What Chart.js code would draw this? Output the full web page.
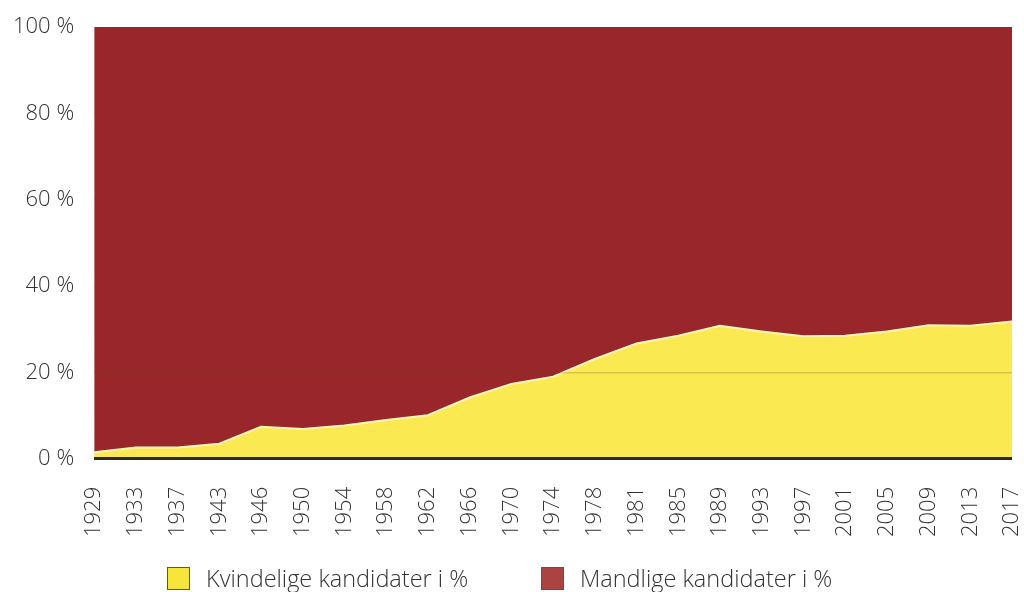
<!DOCTYPE html>
<html>
<head>
<meta charset="utf-8">
<script src="https://cdn.jsdelivr.net/npm/chart.js@4"></script>
<style>
  html, body { margin: 0; padding: 0; background: #fff; overflow: hidden; }
  #wrap { position: relative; width: 1024px; height: 592px; }
  .legend-item { position: absolute; top: 567px; height: 26px; display: flex; align-items: flex-start;
                 font-family: "Open Sans", Lato, sans-serif; font-weight: 300; font-size: 23.5px; line-height: 22px; color: #333; white-space: nowrap; }
  .legend-item .box { width: 21px; height: 21px; border: 1px solid #555; margin-right: 16px; flex: none; }
</style>
</head>
<body>
<div id="wrap">
  <canvas id="areaChart"></canvas>
  <div id="legend"></div>
</div>
<script>
// Kandidater ved stortingsvalg, kvinner vs menn (%)
const years = ['1929','1933','1937','1943','1946','1950','1954','1958','1962','1966','1970','1974',
               '1978','1981','1985','1989','1993','1997','2001','2005','2009','2013','2017'];
const kvinner = [1.5, 2.6, 2.6, 3.5, 7.4, 6.9, 7.7, 9.0, 10.1, 14.2, 17.3, 19.0,
                 23.1, 26.7, 28.5, 30.8, 29.5, 28.4, 28.5, 29.5, 30.9, 30.8, 31.8];
const menn = kvinner.map(v => +(100 - v).toFixed(1));
const yTicks = [0, 20, 40, 60, 80, 100];

const YELLOW = '#fbe952';
const RED = '#98262b';
const FONT = '"Open Sans", Lato, sans-serif';
const tickFont = { family: FONT, size: 22, weight: 300 };

const ctx = document.getElementById('areaChart').getContext('2d');
const chart = new Chart(ctx, {
    type: 'line',
    data: {
        labels: years,
        datasets: [{
            label: 'Kvindelige kandidater i %',
            data: kvinner,
            backgroundColor: YELLOW,
            borderColor: '#fff6b8',
            borderWidth: 2,
            pointRadius: 0,
            tension: 0,
            fill: 'origin'
        }, {
            label: 'Mandlige kandidater i %',
            data: menn,
            backgroundColor: RED,
            borderColor: RED,
            borderWidth: 0,
            pointRadius: 0,
            tension: 0,
            fill: '-1'
        }]
    },
    options: {
        responsive: true,
        maintainAspectRatio: false,
        animation: false,
        layout: { padding: { left: -7, right: 12, top: 27, bottom: 35 } },
        plugins: {
            tooltip: { enabled: false },
            legend: { display: false }
        },
        scales: {
            x: {
                offset: false,
                grid: { display: false },
                border: { display: false },
                afterFit: s => { s.paddingRight = 0; },
                ticks: {
                    color: '#333',
                    font: tickFont,
                    minRotation: 90,
                    maxRotation: 90,
                    autoSkip: false,
                    padding: 20
                }
            },
            y: {
                stacked: true,
                min: 0,
                max: 100,
                border: { display: false },
                afterFit: s => { s.paddingTop = 0; },
                afterBuildTicks: axis => { axis.ticks = yTicks.map(v => ({ value: v })); },
                grid: {
                    z: 1,
                    drawTicks: false,
                    color: c => c.tick.value === 0 ? '#2b2b2b' : (c.tick.value === 100 ? 'rgba(0,0,0,0)' : 'rgba(110,70,0,0.22)'),
                    lineWidth: c => c.tick.value === 0 ? 3 : 1.5
                },
                ticks: {
                    color: '#333',
                    font: tickFont,
                    padding: 20,
                    callback: v => v + ' %'
                }
            }
        }
    }
});

// legend below the chart
const legendItems = [
    { text: 'Kvindelige kandidater i %', color: '#f6e53a', x: 167 },
    { text: 'Mandlige kandidater i %', color: '#a94442', x: 541 }
];
const legendEl = document.getElementById('legend');
legendItems.forEach(it => {
    const d = document.createElement('div');
    d.className = 'legend-item';
    d.style.left = it.x + 'px';
    d.innerHTML = `<span class="box" style="background:${it.color}"></span><span>${it.text}</span>`;
    legendEl.appendChild(d);
});
</script>
</body>
</html>
